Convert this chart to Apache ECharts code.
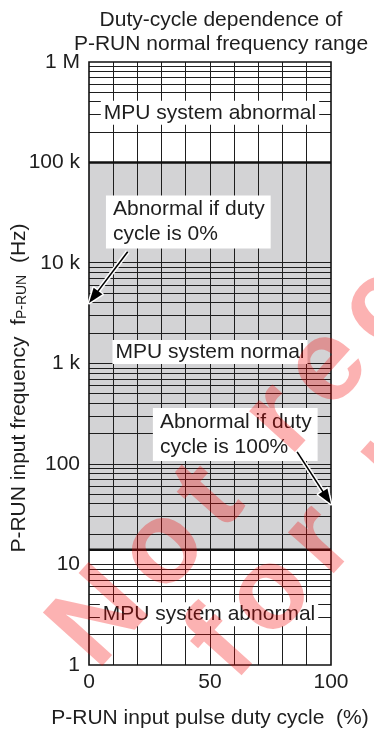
<!DOCTYPE html>
<html>
<head>
<meta charset="utf-8">
<script src="https://cdn.jsdelivr.net/npm/echarts@6/dist/echarts.min.js"></script>
<style>
  html, body { margin: 0; padding: 0; background: #fff; }
  #chart { width: 374px; height: 736px; }
</style>
</head>
<body>
<div id="chart"></div>
<script>
// Duty-cycle axis (%)
const dutyGrid = [10, 20, 30, 40, 50, 60, 70, 80, 90];
const dutyLabels = [0, 50, 100];

// Frequency axis (Hz), logarithmic
const freqDecades = [1, 10, 100, 1000, 10000, 100000, 1000000];
const freqLabels = ['1', '10', '100', '1 k', '10 k', '100 k', '1 M'];
// Decades that carry 2..9 subdivisions (10 k – 100 k is left plain)
const minorDecades = [1, 10, 100, 1000, 100000];
const minorSteps = [2, 3, 4, 5, 6, 7, 8, 9];

// Frequency band in which the MPU runs normally (Hz)
const normalRange = [14, 100000];

// Region captions: [duty %, frequency Hz, text]
const regionCaptions = [
  [50, 312000, 'MPU system abnormal'],
  [50, 1303, 'MPU system normal'],
  [49.6, 3.2, 'MPU system abnormal']
];

// Call-outs: [duty %, frequency Hz, text]
const notes = [
  [7, 25600, 'Abnormal if duty\ncycle is 0%'],
  [26.4, 197, 'Abnormal if duty\ncycle is 100%']
];

// Call-out arrows: [startDuty, startFreq, tipDuty, tipFreq]
const arrows = [
  [16, 12950, 0, 4000],
  [86, 132, 100, 40]
];

// Stamp across the sheet
const stampLines = ['Not recommended', 'for new design'];

const FONT = '"Liberation Sans", Arial, Helvetica, sans-serif';
const INK = '#1e1e1e';

// grid line data
const hLines = [];
minorDecades.forEach(d => minorSteps.forEach(s => hLines.push([0, d * s])));
freqDecades.slice(1, -1).forEach(d => hLines.push([0, d]));
const vLines = dutyGrid.map(d => [d, 1]);

const crisp = v => Math.round(v - 0.5) + 0.5;

// lay the stamp out glyph by glyph so it can be tracked wider than the font;
// each line's baseline sits at y = lineIndex * lineGap in the group frame
function stampGlyphs(lines, fontPx, tracking, lineGap, lineShift) {
  const ctx = document.createElement('canvas').getContext('2d');
  const font = 'bold ' + fontPx + 'px ' + FONT;
  ctx.font = font;
  const m = ctx.measureText('N');
  const emMid = (m.fontBoundingBoxAscent !== undefined)
    ? (m.fontBoundingBoxAscent - m.fontBoundingBoxDescent) / 2
    : fontPx * 0.33;
  const out = [];
  lines.forEach((line, li) => {
    let x = lineShift[li];
    for (const ch of line) {
      const w = ctx.measureText(ch).width;
      if (ch !== ' ') {
        out.push({
          type: 'text', z: 100, silent: true, x: x, y: li * lineGap - emMid,
          style: { text: ch, font: font, fill: 'rgba(245,0,0,0.3)', align: 'left', verticalAlign: 'middle' }
        });
      }
      x += w + tracking;
    }
  });
  return out;
}

const chart = echarts.init(document.getElementById('chart'), null, { renderer: 'canvas' });

chart.setOption({
  animation: false,
  textStyle: { fontFamily: FONT },
  title: {
    text: 'Duty-cycle dependence of\nP-RUN normal frequency range',
    left: 216,
    top: 3,
    textAlign: 'center',
    textStyle: { fontSize: 21, fontWeight: 'normal', color: INK, lineHeight: 24, fontFamily: FONT }
  },
  grid: { left: 89, top: 62, width: 242, height: 603, containLabel: false },
  xAxis: {
    type: 'value',
    min: 0, max: 100, interval: 50,
    axisLine: { show: false }, axisTick: { show: false }, splitLine: { show: false },
    axisLabel: {
      fontSize: 21, color: INK, margin: 7,
      formatter: v => dutyLabels.includes(v) ? String(v) : ''
    },
    name: 'P-RUN input pulse duty cycle  (%)',
    nameLocation: 'middle',
    nameGap: 43,
    nameTextStyle: { fontSize: 21, color: INK }
  },
  yAxis: {
    type: 'log', logBase: 10, min: 1, max: 1000000,
    axisLine: { show: false }, axisTick: { show: false },
    splitLine: { show: false }, minorSplitLine: { show: false },
    axisLabel: {
      fontSize: 21, color: INK, margin: 9,
      formatter: v => freqLabels[Math.round(Math.log10(v))]
    }
  },
  graphic: [
    {
      type: 'text',
      x: 19, y: 388,
      rotation: Math.PI / 2,
      style: {
        text: 'P-RUN input frequency  f{sub|P-RUN}  (Hz)',
        font: '21px ' + FONT,
        fill: INK,
        align: 'center',
        verticalAlign: 'middle',
        rich: {
          sub: { fontSize: 14, fontFamily: FONT, fill: INK, verticalAlign: 'bottom', lineHeight: 12 }
        }
      }
    },
    {
      type: 'group',
      x: 103, y: 677,
      rotation: 48 * Math.PI / 180,
      silent: true,
      children: stampGlyphs(stampLines, 116, 15.5, 110, [0, 83])
    }
  ],
  series: [
    {
      // normal-operation band
      type: 'custom', z: 1, silent: true,
      data: [[0, normalRange[0], 100, normalRange[1]]],
      encode: { x: [0, 2], y: [1, 3] },
      renderItem: (params, api) => {
        const a = api.coord([api.value(0), api.value(3)]);
        const b = api.coord([api.value(2), api.value(1)]);
        return { type: 'rect', shape: { x: a[0], y: a[1], width: b[0] - a[0], height: b[1] - a[1] },
                 style: { fill: '#d3d3d5' } };
      }
    },
    {
      // horizontal grid
      type: 'custom', z: 2, silent: true,
      data: hLines,
      encode: { x: 0, y: 1 },
      renderItem: (params, api) => {
        const v = api.value(1);
        const a = api.coord([0, v]), b = api.coord([100, v]);
        const y = crisp(a[1]);
        return { type: 'line', shape: { x1: a[0], y1: y, x2: b[0], y2: y },
                 style: { stroke: INK, lineWidth: 1 } };
      }
    },
    {
      // vertical grid
      type: 'custom', z: 2, silent: true,
      data: vLines,
      encode: { x: 0, y: 1 },
      renderItem: (params, api) => {
        const d = api.value(0);
        const a = api.coord([d, 1]), b = api.coord([d, 1000000]);
        const x = crisp(a[0]);
        return { type: 'line', shape: { x1: x, y1: a[1], x2: x, y2: b[1] },
                 style: { stroke: INK, lineWidth: 1 } };
      }
    },
    {
      // band limits
      type: 'custom', z: 3, silent: true,
      data: normalRange.map(f => [0, f]),
      encode: { x: 0, y: 1 },
      renderItem: (params, api) => {
        const v = api.value(1);
        const a = api.coord([0, v]), b = api.coord([100, v]);
        return { type: 'line', shape: { x1: a[0], y1: a[1], x2: b[0], y2: b[1] },
                 style: { stroke: '#111', lineWidth: 2.6 } };
      }
    },
    {
      // plot frame
      type: 'custom', z: 3, silent: true,
      data: [[0, 1, 100, 1000000]],
      encode: { x: [0, 2], y: [1, 3] },
      renderItem: (params, api) => {
        const a = api.coord([api.value(0), api.value(3)]);
        const b = api.coord([api.value(2), api.value(1)]);
        return { type: 'rect', shape: { x: a[0], y: a[1], width: b[0] - a[0], height: b[1] - a[1] },
                 style: { fill: 'none', stroke: '#111', lineWidth: 1.6 } };
      }
    },
    {
      // region captions
      type: 'scatter', z: 4, silent: true,
      symbolSize: 0,
      itemStyle: { opacity: 1 },
      emphasis: { disabled: true },
      data: regionCaptions,
      label: {
        show: true, position: 'inside', opacity: 1,
        formatter: p => p.value[2],
        fontSize: 21, color: INK, lineHeight: 23,
        backgroundColor: '#ffffff', padding: [1, 3, 0, 3]
      }
    },
    {
      // call-out boxes
      type: 'scatter', z: 4, silent: true,
      symbolSize: 0,
      itemStyle: { opacity: 1 },
      emphasis: { disabled: true },
      data: notes,
      label: {
        show: true, position: [0, 0], align: 'left', verticalAlign: 'middle', opacity: 1,
        formatter: p => p.value[2],
        fontSize: 21, color: INK, lineHeight: 25,
        backgroundColor: '#ffffff', padding: [2, 6, 1, 7]
      }
    },
    {
      // call-out arrows
      type: 'custom', z: 5, silent: true,
      data: arrows,
      encode: { x: [0, 2], y: [1, 3] },
      renderItem: (params, api) => {
        const s = api.coord([api.value(0), api.value(1)]);
        const t = api.coord([api.value(2), api.value(3)]);
        const dx = t[0] - s[0], dy = t[1] - s[1];
        const len = Math.hypot(dx, dy);
        const ux = dx / len, uy = dy / len;
        const head = 15, half = 5.5;
        const bx = t[0] - ux * head, by = t[1] - uy * head;
        const tri = [[t[0], t[1]], [bx - uy * half, by + ux * half], [bx + uy * half, by - ux * half]];
        return {
          type: 'group',
          children: [
            { type: 'line', shape: { x1: s[0], y1: s[1], x2: bx, y2: by }, style: { stroke: '#fff', lineWidth: 4.5 } },
            { type: 'polygon', shape: { points: tri }, style: { fill: '#fff', stroke: '#fff', lineWidth: 3, lineJoin: 'round' } },
            { type: 'line', shape: { x1: s[0], y1: s[1], x2: bx + ux * 2, y2: by + uy * 2 }, style: { stroke: '#000', lineWidth: 1.6 } },
            { type: 'polygon', shape: { points: tri }, style: { fill: '#000' } }
          ]
        };
      }
    }
  ]
});
</script>
</body>
</html>
